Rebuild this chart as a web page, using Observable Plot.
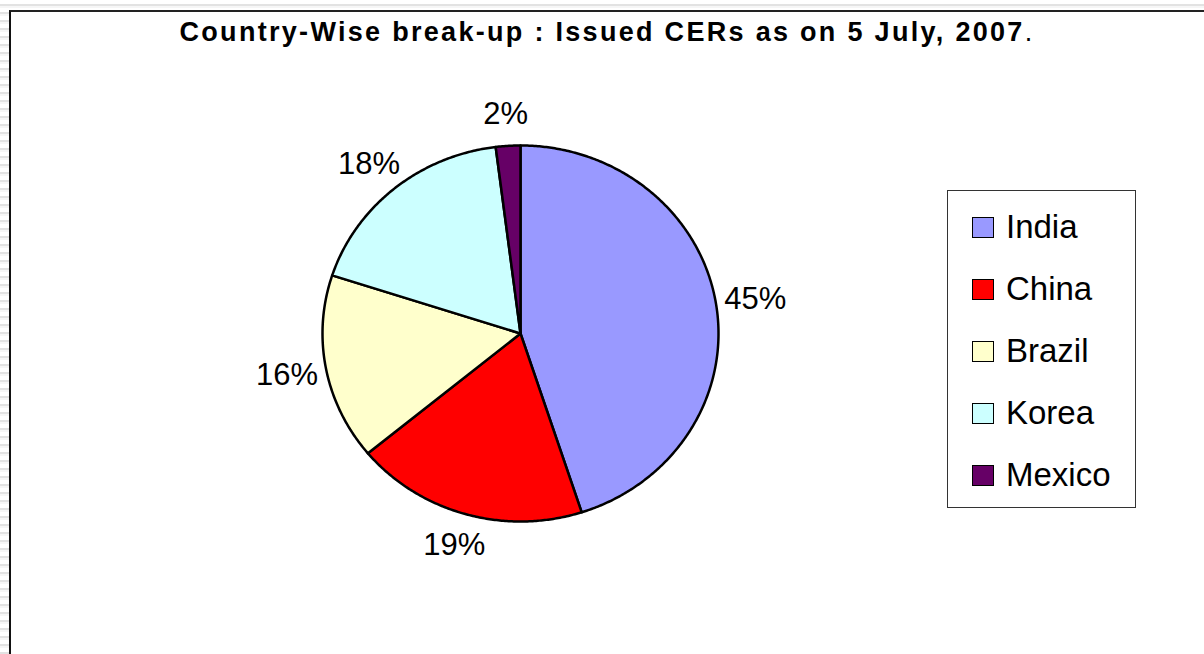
<!DOCTYPE html>
<html>
<head>
<meta charset="utf-8">
<script src="https://cdn.jsdelivr.net/npm/d3@7"></script>
<script src="https://cdn.jsdelivr.net/npm/@observablehq/plot@0.6"></script>
<style>
  html, body { margin: 0; padding: 0; }
  body {
    width: 1204px; height: 654px; overflow: hidden; position: relative;
    background: repeating-linear-gradient(to bottom, #ffffff 0px, #ffffff 4px, #e2e2e2 4px, #e2e2e2 6px, #f6f6f6 6px, #f6f6f6 8px);
    font-family: "Liberation Sans", Arial, sans-serif;
  }
  #frame {
    position: absolute; left: 9px; top: 10px; width: 1200px; height: 650px;
    background: #fff; border-left: 2px solid #111; border-top: 2px solid #222;
  }
  #title {
    position: absolute; left: 0; top: 17px; width: 1214px; text-align: center;
    font-size: 27px; font-weight: bold; letter-spacing: 2.3px; color: #000;
  }
  #title span { font-weight: normal; }
  #chart { position: absolute; left: 0; top: 0; }
  #legend {
    position: absolute; left: 947px; top: 190px; width: 189px; height: 318px;
    border: 1px solid #333; background: #fff; box-sizing: border-box;
  }
  .item { position: absolute; left: 24px; height: 40px; display: flex; align-items: center; font-size: 33px; color: #000; }
  .sw { width: 20px; height: 19px; border: 1.5px solid #000; margin-right: 12px; }
</style>
</head>
<body>
<div id="frame"></div>
<div id="chart"></div>
<div id="title">Country-Wise break-up : Issued CERs as on 5 July, 2007<span>.</span></div>
<div id="legend"></div>
<script>
// Data
const countries = ["India", "China", "Brazil", "Korea", "Mexico"];
const shares = [45, 19, 16, 18, 2];
const colors = ["#9999FF", "#FF0000", "#FFFFCC", "#CCFFFF", "#660066"];

// Build slice outlines (unit circle) from shares
const total = d3.sum(shares);
let acc = 0;
const slicePts = [];
const labels = [];
countries.forEach((name, i) => {
  const a0 = acc / total * 2 * Math.PI;
  acc += shares[i];
  const a1 = acc / total * 2 * Math.PI;
  slicePts.push({name, x: 0, y: 0});
  const n = Math.max(2, Math.ceil((a1 - a0) / (Math.PI / 360)));
  for (let k = 0; k <= n; k++) {
    const a = a0 + (a1 - a0) * k / n;
    slicePts.push({name, x: Math.sin(a), y: Math.cos(a)});
  }
  slicePts.push({name, x: 0, y: 0});
  const am = (a0 + a1) / 2;
  labels.push({name, x: 1.2 * Math.sin(am), y: 1.17 * Math.cos(am), text: shares[i] + "%"});
});

const cx = 520, cy = 333, rx = 198, ry = 188;
const chart = Plot.plot({
  width: 1204,
  height: 654,
  margin: 0,
  x: {domain: [-1, 1], range: [cx - rx, cx + rx], axis: null},
  y: {domain: [-1, 1], range: [cy + ry, cy - ry], axis: null},
  color: {domain: countries, range: colors},
  style: {background: "transparent", overflow: "visible"},
  marks: [
    Plot.line(slicePts, {x: "x", y: "y", z: "name", fill: "name", stroke: "#000", strokeWidth: 2.5, strokeLinejoin: "round", curve: "linear"}),
    Plot.text(labels, {x: "x", y: "y", text: "text", fontSize: 31, fill: "#000", fontFamily: "Liberation Sans, Arial, sans-serif", textAnchor: "middle"})
  ]
});
document.getElementById("chart").appendChild(chart);

// Legend
const legend = document.getElementById("legend");
countries.forEach((name, i) => {
  const it = document.createElement("div");
  it.className = "item";
  it.style.top = (16 + i * 62) + "px";
  const sw = document.createElement("div");
  sw.className = "sw";
  sw.style.background = colors[i];
  it.appendChild(sw);
  it.appendChild(document.createTextNode(name));
  legend.appendChild(it);
});
</script>
</body>
</html>
